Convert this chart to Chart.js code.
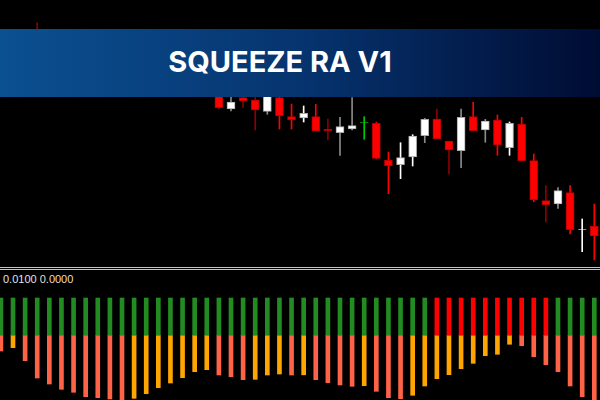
<!DOCTYPE html>
<html><head><meta charset="utf-8">
<script src="https://cdn.jsdelivr.net/npm/chart.js@4.4.1/dist/chart.umd.min.js"></script>
<style>
html,body{margin:0;padding:0;background:#000;width:600px;height:400px;overflow:hidden}
#wrap{position:relative;width:600px;height:400px;background:#000}
#priceBox{position:absolute;left:0;top:0;width:600px;height:266px}
#indBox{position:absolute;left:0;top:270px;width:600px;height:130px}
.sep{position:absolute;left:0;width:600px;height:1px;background:#c4c4c4}
#vals{position:absolute;left:3px;top:274px;font:11px/11px 'Liberation Sans',Arial,sans-serif;color:#dfe6ee;white-space:pre}
#vals span{color:#f2dcc0}
#banner{position:absolute;left:0;top:29px;width:600px;height:68px;background:linear-gradient(90deg,#0b5091 0%,#06346f 50%,#000c33 100%)}
#title{position:absolute;left:0;top:0;width:560px;height:68px;display:flex;align-items:center;justify-content:center;color:#fff;font:700 29px Inter,'Open Sans',sans-serif;padding-bottom:4px;box-sizing:border-box}
</style></head>
<body>
<div id="wrap">
  <div id="priceBox"><canvas id="price"></canvas></div>
  <div class="sep" style="top:267px"></div>
  <div class="sep" style="top:269px"></div>
  <div id="vals">0.0100 <span>0.0000</span></div>
  <div id="indBox"><canvas id="ind"></canvas></div>
  <div id="banner"><div id="title">SQUEEZE RA V1</div></div>
</div>
<script>
// ---- price candles (bar index 0..49) ----
const opens  = [1.19560,1.19600,1.19650,1.19590,1.19530,1.19440,1.19480,1.19360,1.19300,1.19340,
                1.19250,1.19200,1.19270,1.19310,1.19280,1.19330,1.19200,1.19230,1.19050,1.18910,
                1.19023,1.19000,1.18887,1.19025,1.18833,1.18820,1.18833,1.18707,1.18673,1.18710,
                1.18775,1.18767,1.18400,1.18353,1.18430,1.18643,1.18810,1.18590,1.18493,1.18833,
                1.18700,1.18800,1.18523,1.18760,1.18393,1.17993,1.17960,1.18073,1.17705,1.17740];
const highs  = [1.19640,1.19690,1.19700,1.19773,1.19600,1.19520,1.19530,1.19420,1.19390,1.19380,
                1.19320,1.19300,1.19350,1.19380,1.19360,1.19370,1.19260,1.19280,1.19100,1.19060,
                1.19040,1.19050,1.19060,1.19050,1.18960,1.18940,1.18957,1.18810,1.18827,1.19025,
                1.18833,1.18780,1.18480,1.18573,1.18653,1.18817,1.18910,1.18590,1.18910,1.18977,
                1.18807,1.18850,1.18780,1.18827,1.18460,1.18143,1.18123,1.18143,1.17810,1.17960];
const lows   = [1.19480,1.19540,1.19560,1.19500,1.19400,1.19380,1.19330,1.19280,1.19250,1.19220,
                1.19170,1.19160,1.19220,1.19250,1.19210,1.19180,1.19120,1.19060,1.18910,1.18890,
                1.18927,1.18700,1.18857,1.18710,1.18710,1.18780,1.18690,1.18600,1.18447,1.18700,
                1.18607,1.18410,1.18063,1.18213,1.18340,1.18573,1.18610,1.18260,1.18323,1.18693,
                1.18577,1.18447,1.18447,1.18393,1.17983,1.17780,1.17917,1.17660,1.17483,1.17400];
const closes = [1.19600,1.19650,1.19580,1.19530,1.19440,1.19480,1.19360,1.19300,1.19340,1.19250,
                1.19200,1.19270,1.19310,1.19280,1.19330,1.19200,1.19230,1.19100,1.18923,1.18980,
                1.18990,1.18900,1.19040,1.18843,1.18803,1.18867,1.18690,1.18693,1.18733,1.18743,
                1.18777,1.18417,1.18343,1.18423,1.18640,1.18807,1.18610,1.18500,1.18827,1.18693,
                1.18790,1.18550,1.18767,1.18393,1.18000,1.17953,1.18093,1.17703,1.17707,1.17640];
// wick tone per candle: r = red, d = dark red, g = grey, w = white, n = green
const wickTone = ['g','g','d','d','d','g','d','d','g','d',
                  'd','g','g','d','g','d','g','d','d','g',
                  'd','d','g','r','r','w','r','d','g','g',
                  'n','r','r','w','w','g','d','d','g','r',
                  'g','r','w','r','r','d','g','r','w','r'];
const greenDoji = [30];

// ---- squeeze indicator ----
const squeezeLevel = 0.0100;
const squeezeOn = [0,0,0,0,0,0,0,0,0,0, 0,0,0,0,0,0,0,0,0,0,
                   0,0,0,0,0,0,0,0,0,0, 0,0,0,0,0,0,1,1,1,1,
                   1,1,1,1,1,1,0,0,0,0];
const momentum = [-0.00421,-0.00332,-0.00681,-0.01145,-0.01306,-0.01448,-0.01528,-0.01646,-0.01673,-0.01708,
                  -0.01770,-0.01689,-0.01566,-0.01405,-0.01279,-0.01137,-0.00976,-0.00922,-0.01064,-0.01110,
                  -0.01190,-0.01180,-0.01064,-0.01038,-0.01065,-0.01060,-0.01190,-0.01271,-0.01332,-0.01367,
                  -0.01351,-0.01501,-0.01673,-0.01700,-0.01609,-0.01359,-0.01164,-0.01056,-0.00895,-0.00751,
                  -0.00547,-0.00509,-0.00241,-0.00279,-0.00574,-0.00788,-0.00976,-0.01359,-0.01646,-0.01780];

const TONE = {r:'#ff0000', d:'#8b0000', g:'#8a8a8a', w:'#ffffff', n:'#00c800'};
const idx = opens.map((_, i) => i);
const bodyColor = idx.map(i => greenDoji.includes(i) ? '#00c800' : (closes[i] >= opens[i] ? '#ffffff' : '#ff0000'));
const bodyBorder = idx.map(i => greenDoji.includes(i) ? '#00c800' : (closes[i] >= opens[i] ? '#a8a8a8' : '#b80000'));
const wickColor = wickTone.map(t => TONE[t]);

const xScale = {type:'linear', min:-0.074, max:49.47, offset:false, display:false};
const common = {
  responsive:true, maintainAspectRatio:false, animation:false,
  layout:{padding:0},
  plugins:{legend:{display:false}, tooltip:{enabled:false}}
};

new Chart(document.getElementById('price'), {
  type:'bar',
  data:{datasets:[
    {label:'body', data: idx.map(i => ({x:i, y:[opens[i], closes[i]]})),
     backgroundColor: bodyColor, borderColor: bodyBorder, borderWidth:1, borderSkipped:false,
     barThickness:8, grouped:false, order:0},
    {label:'wick', data: idx.map(i => ({x:i, y:[lows[i], highs[i]]})),
     backgroundColor: wickColor, borderWidth:0, barThickness:1, grouped:false, order:1}
  ]},
  options:Object.assign({}, common, {
    scales:{x:xScale, y:{type:'linear', min:1.1734, max:1.2000, display:false}}
  })
});

const momColor = momentum.map((v, i) => (i > 0 && v > momentum[i-1]) ? '#ffa500' : '#ff6347');
new Chart(document.getElementById('ind'), {
  type:'bar',
  data:{datasets:[
    {label:'squeeze', data: idx.map(i => ({x:i, y:squeezeLevel})),
     backgroundColor: squeezeOn.map(s => s ? '#ff0000' : '#228b22'), borderWidth:0,
     barThickness:4, grouped:false},
    {label:'momentum', data: idx.map(i => ({x:i, y:momentum[i]})),
     backgroundColor: momColor, borderWidth:0, barThickness:4, grouped:false}
  ]},
  options:Object.assign({}, common, {
    scales:{x:xScale, y:{type:'linear', min:-0.017346, max:0.017507, display:false}}
  })
});
</script>
</body></html>
